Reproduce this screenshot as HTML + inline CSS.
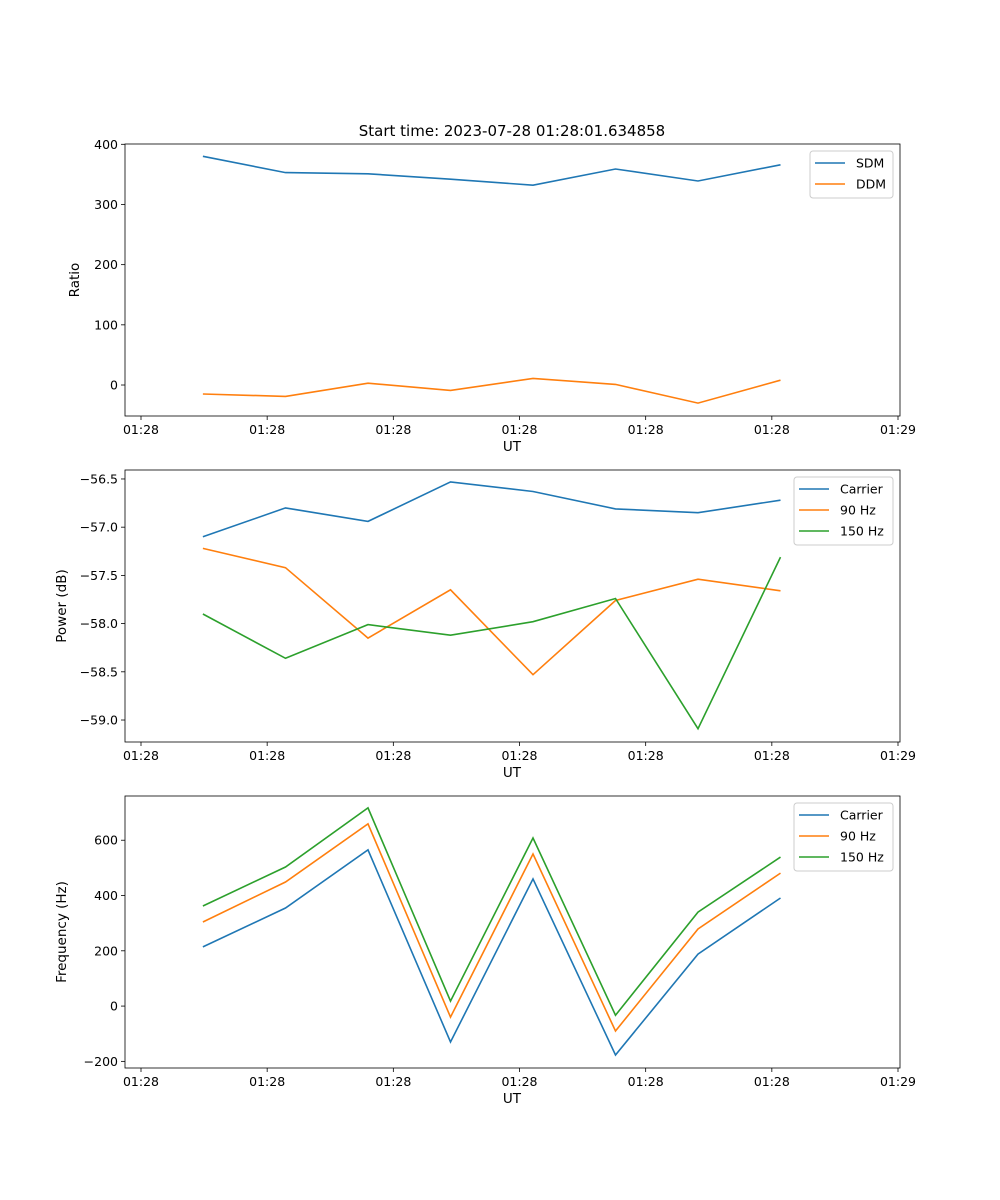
<!DOCTYPE html>
<html><head><meta charset="utf-8"><style>
body{margin:0;background:#fff}
svg{display:block;font-family:"DejaVu Sans","Liberation Sans",sans-serif}
</style></head><body>
<svg id="fig" width="1000" height="1200" xmlns="http://www.w3.org/2000/svg">
<text x="512" y="136" font-size="15" text-anchor="middle">Start time: 2023-07-28 01:28:01.634858</text>
</svg>
<script>
const times = [4.91, 11.45, 17.99, 24.53, 31.07, 37.61, 44.15, 50.69];
const xTicks = [0, 10, 20, 30, 40, 50, 60];
const xTickLabels = ["01:28","01:28","01:28","01:28","01:28","01:28","01:29"];
const sdm = [380, 353, 351, 342, 332, 359, 339, 366];
const ddm = [-15, -19, 3, -9, 11, 1, -30, 8];
const pCarrier = [-57.10, -56.80, -56.94, -56.53, -56.63, -56.81, -56.85, -56.72];
const p90 = [-57.22, -57.42, -58.15, -57.65, -58.53, -57.76, -57.54, -57.66];
const p150 = [-57.90, -58.36, -58.01, -58.12, -57.98, -57.74, -59.09, -57.31];
const fCarrier = [214, 355, 565, -130, 460, -177, 188, 391];
const f90 = [304, 449, 659, -40, 550, -90, 279, 481];
const f150 = [362, 503, 717, 18, 608, -33, 340, 539];
const ratioTicks = [0, 100, 200, 300, 400];
const powerTicks = [-59.0, -58.5, -58.0, -57.5, -57.0, -56.5];
const freqTicks = [-200, 0, 200, 400, 600];

const NS = "http://www.w3.org/2000/svg";
const svg = document.getElementById("fig");
const C = {blue:"#1f77b4", orange:"#ff7f0e", green:"#2ca02c"};
function el(tag, attrs, parent){const e=document.createElementNS(NS,tag);for(const k in attrs)e.setAttribute(k,attrs[k]);(parent||svg).appendChild(e);return e;}
const L=125,R=900;
const xScale = t => 141 + t*(898-141)/60;

function panel(name, top, bottom, ymin, ymax, yticks, fmt, ylabel, series, legend){
  const g = el("g",{});
  
  
  const ys = v => bottom - (v-ymin)/(ymax-ymin)*(bottom-top);
  // x ticks
  xTicks.forEach((t,i)=>{
    const x=xScale(t);
    el("line",{x1:x,x2:x,y1:bottom,y2:bottom+4,stroke:"#000","stroke-width":0.8},g);
    const tx=el("text",{x:x,y:bottom+18,"font-size":12.5,"text-anchor":"middle"},g);
    tx.textContent=xTickLabels[i];
    
    
  });
  const xl=el("text",{x:512,y:bottom+35,"font-size":13.5,"text-anchor":"middle"},g);
  xl.textContent="UT";
  
  
  yticks.forEach(v=>{
    const y=ys(v);
    el("line",{x1:L-4,x2:L,y1:y,y2:y,stroke:"#000","stroke-width":0.8},g);
    const tx=el("text",{x:L-7,y:y+4.5,"font-size":12.5,"text-anchor":"end"},g);
    tx.textContent=fmt(v);
    
    
  });
  const cy=(top+bottom)/2;
  const ylx = ylabel==="Ratio"?79:66;
  const yl=el("text",{x:ylx,y:cy,"font-size":13.5,"text-anchor":"middle",transform:`rotate(-90 ${ylx} ${cy})`},g);
  yl.textContent=ylabel;
  
  
  series.forEach(s=>{
    const pts=s.data.map((v,i)=>xScale(times[i]).toFixed(1)+","+ys(v).toFixed(1)).join(" ");
    const p=el("polyline",{points:pts,fill:"none",stroke:s.color,"stroke-width":1.6},g);
    
    
  });
  el("rect",{x:L,y:top,width:R-L,height:bottom-top,fill:"none",stroke:"#000","stroke-width":0.8},g);
  // legend
  const lg=el("g",{},g);
  
  
  el("rect",{x:legend.x,y:top+7,width:R-7-legend.x,height:series.length*21+5,rx:3,fill:"#fff",stroke:"#ccc","stroke-width":1},lg);
  series.forEach((s,i)=>{
    const y=top+19+i*21;
    el("line",{x1:legend.x+5,x2:legend.x+35,y1:y,y2:y,stroke:s.color,"stroke-width":1.6},lg);
    const t=el("text",{x:legend.x+46,y:y+4.5,"font-size":12.5},lg);
    t.textContent=s.label;
    
    
  });
}
panel("ratio-panel",144,416,-51.5,400.5,ratioTicks,v=>v===0?"0":String(v),"Ratio",
  [{data:sdm,color:C.blue,label:"SDM",name:"sdm-line"},{data:ddm,color:C.orange,label:"DDM",name:"ddm-line"}],{x:810});
panel("power-panel",470,742,-59.228,-56.407,powerTicks,v=>"\u2212"+Math.abs(v).toFixed(1),"Power (dB)",
  [{data:pCarrier,color:C.blue,label:"Carrier",name:"power-carrier-line"},{data:p90,color:C.orange,label:"90 Hz",name:"power-90hz-line"},{data:p150,color:C.green,label:"150 Hz",name:"power-150hz-line"}],{x:794});
panel("frequency-panel",796,1068,-224,760,freqTicks,v=>v<0?"\u2212"+Math.abs(v):String(v),"Frequency (Hz)",
  [{data:fCarrier,color:C.blue,label:"Carrier",name:"freq-carrier-line"},{data:f90,color:C.orange,label:"90 Hz",name:"freq-90hz-line"},{data:f150,color:C.green,label:"150 Hz",name:"freq-150hz-line"}],{x:794});
</script>
</body></html>
